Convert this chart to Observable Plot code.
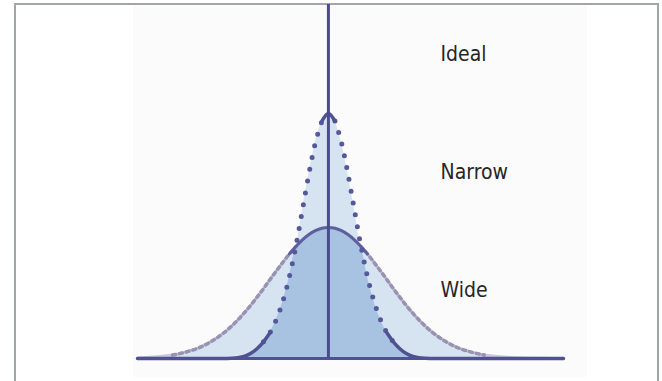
<!DOCTYPE html>
<html>
<head>
<meta charset="utf-8">
<script src="https://cdn.jsdelivr.net/npm/d3@7"></script>
<script src="https://cdn.jsdelivr.net/npm/@observablehq/plot@0.6"></script>
<style>
  html, body { margin: 0; padding: 0; background: #ffffff; }
  #wrap { position: relative; width: 662px; height: 381px; overflow: hidden; }
  #frame { position: absolute; left: 14px; top: 3px; width: 641px; height: 420px;
           border: 2px solid #a3a6a9; border-bottom: none; box-sizing: content-box; }
  #tint { position: absolute; left: 133px; top: 5px; width: 454px; height: 372px; background: #fbfbfb; }
  #chart { position: absolute; left: 0; top: 0; }
</style>
</head>
<body>
<div id="wrap">
  <div id="tint"></div>
  <div id="frame"></div>
  <div id="chart"></div>
</div>
<script>
// Positions along the spread axis (units of the narrow curve's spread)
const xs = [-7.35, -7, -6.5, -6, -5.5, -5, -4.5, -4, -3.75, -3.5, -3.25, -3, -2.75, -2.5, -2.25, -2, -1.75, -1.5, -1.25, -1, -0.75, -0.5, -0.25, 0,
            0.25, 0.5, 0.75, 1, 1.25, 1.5, 1.75, 2, 2.25, 2.5, 2.75, 3, 3.25, 3.5, 3.75, 4, 4.5, 5, 5.5, 6, 6.5, 7, 7.5, 8, 8.5, 9.05];
// Narrow distribution (heights relative to its peak)
const narrow = [0, 0, 0, 0, 0, 0, 0, 0, 0.001, 0.003, 0.008, 0.020, 0.040, 0.068, 0.105, 0.160, 0.235, 0.335, 0.460, 0.607, 0.755, 0.882, 0.969, 1.000,
                0.969, 0.882, 0.755, 0.607, 0.460, 0.335, 0.235, 0.160, 0.105, 0.068, 0.040, 0.020, 0.008, 0.003, 0.001, 0, 0, 0, 0, 0, 0, 0, 0, 0, 0, 0];
// Wide distribution
const wide = [0.002, 0.004, 0.008, 0.014, 0.026, 0.043, 0.070, 0.107, 0.130, 0.156, 0.185, 0.216, 0.250, 0.285, 0.322, 0.358, 0.393, 0.427, 0.457, 0.484, 0.506, 0.522, 0.532, 0.535,
              0.532, 0.522, 0.506, 0.484, 0.457, 0.427, 0.393, 0.358, 0.322, 0.285, 0.250, 0.216, 0.185, 0.156, 0.130, 0.107, 0.070, 0.043, 0.026, 0.014, 0.008, 0.004, 0.002, 0.001, 0, 0];
// Labels
const labels = ["Ideal", "Narrow", "Wide"];

const rows = xs.map((x, i) => ({x, n: narrow[i], w: wide[i], lo: Math.min(narrow[i], wide[i]), hi: Math.max(narrow[i], wide[i])}));
const xDomain = [xs[0], xs[xs.length - 1]];
const yMax = 1.445;

const navy = "#4f5291";
const labelY = [1.241, 0.759, 0.278];

const plot = Plot.plot({
  width: 662,
  height: 381,
  marginLeft: 137,
  marginRight: 99,
  marginTop: 4,
  marginBottom: 23,
  x: {domain: xDomain, axis: null},
  y: {domain: [0, yMax], axis: null},
  style: {background: "transparent"},
  marks: [
    Plot.areaY(rows, {x: "x", y: "hi", fill: "#d6e4f2", curve: "monotone-x"}),
    Plot.areaY(rows, {x: "x", y: "lo", fill: "#a7c3e1", curve: "monotone-x"}),
    // wide curve: faint continuous stroke
    Plot.line(rows, {x: "x", y: "w", stroke: "#cdc8dc", strokeWidth: 3, curve: "monotone-x"}),
    // wide curve: dashed sides
    Plot.line(rows.filter(d => Math.abs(d.x) >= 1.25 && Math.abs(d.x) <= 6), {
      x: "x", y: "w", z: d => d.x < 0 ? "L" : "R",
      stroke: "#9893b2", strokeWidth: 3.5, strokeDasharray: "3,4", curve: "monotone-x"}),
    // wide curve: solid crest
    Plot.line(rows.filter(d => Math.abs(d.x) <= 1.5), {
      x: "x", y: "w", stroke: "#5d609e", strokeWidth: 3, curve: "monotone-x"}),
    // narrow curve: dotted flanks
    Plot.line(rows.filter(d => Math.abs(d.x) >= 0.25 && Math.abs(d.x) <= 2.5), {
      x: "x", y: "n", z: d => d.x < 0 ? "L" : "R",
      stroke: "#55589a", strokeWidth: 5, strokeDasharray: "0,12", strokeLinecap: "round", curve: "monotone-x"}),
    // narrow curve: solid peak and toes
    Plot.line(rows.filter(d => Math.abs(d.x) <= 0.25), {
      x: "x", y: "n", stroke: navy, strokeWidth: 3.5, curve: "monotone-x"}),
    Plot.line(rows.filter(d => Math.abs(d.x) >= 2.25), {
      x: "x", y: "n", z: d => d.x < 0 ? "L" : "R",
      stroke: navy, strokeWidth: 3.5, curve: "monotone-x"}),
    // baseline
    Plot.ruleY([0], {x1: xDomain[0], x2: xDomain[1], stroke: navy, strokeWidth: 3}),
    // ideal (vertical line)
    Plot.ruleX([0], {y1: 0, y2: yMax, stroke: "#4b4c8d", strokeWidth: 3}),
    Plot.text(labels, {
      x: () => 4.316, y: (d, i) => labelY[i], text: d => d,
      textAnchor: "start", fontSize: 21, fill: "#262626",
      fontFamily: "'DejaVu Sans Condensed', 'DejaVu Sans', sans-serif"})
  ]
});
document.getElementById("chart").appendChild(plot);
</script>
</body>
</html>
